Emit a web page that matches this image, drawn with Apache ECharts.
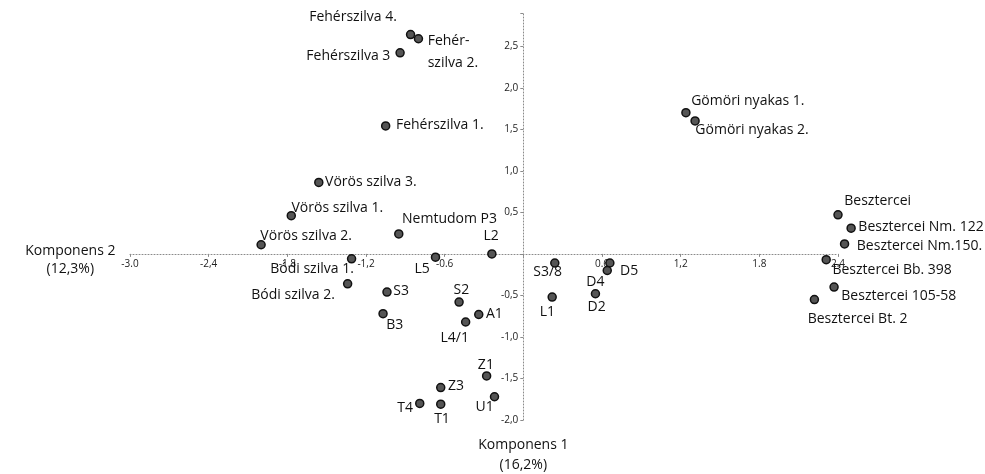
<!DOCTYPE html>
<html><head><meta charset="utf-8">
<script src="https://cdn.jsdelivr.net/npm/echarts@6/dist/echarts.min.js"></script>
<style>html,body{margin:0;padding:0;background:#fff}#c{width:985px;height:474px}</style>
</head><body><div id="c"></div>
<script>
// ---- data ----
const names = [
  'Fehérszilva 4.', 'Fehér-\nszilva 2.', 'Fehérszilva 3', 'Fehérszilva 1.',
  'Vörös szilva 3.', 'Vörös szilva 1.', 'Vörös szilva 2.', 'Nemtudom P3',
  'L2', 'Bódi szilva 1.', 'L5', 'Bódi szilva 2.', 'S3', 'S2', 'A1', 'L4/1', 'B3',
  'Z1', 'U1', 'Z3', 'T4', 'T1',
  'S3/8', 'D5', 'D4', 'L1', 'D2',
  'Gömöri nyakas 1.', 'Gömöri nyakas 2.',
  'Besztercei', 'Besztercei Nm. 122', 'Besztercei Nm.150.', 'Besztercei Bb. 398',
  'Besztercei 105-58', 'Besztercei Bt. 2'
];
const komponens1 = [
  -0.86, -0.80, -0.94, -1.05,
  -1.56, -1.77, -2.00, -0.95,
  -0.24, -1.31, -0.67, -1.34, -1.04, -0.49, -0.34, -0.44, -1.07,
  -0.28, -0.22, -0.63, -0.79, -0.63,
  0.24, 0.66, 0.64, 0.22, 0.55,
  1.24, 1.31,
  2.40, 2.50, 2.45, 2.31, 2.37, 2.22
];
const komponens2 = [
  2.64, 2.59, 2.42, 1.54,
  0.86, 0.46, 0.11, 0.24,
  0.00, -0.06, -0.04, -0.36, -0.46, -0.58, -0.73, -0.82, -0.72,
  -1.47, -1.72, -1.61, -1.80, -1.81,
  -0.11, -0.11, -0.20, -0.52, -0.48,
  1.70, 1.60,
  0.47, 0.31, 0.12, -0.07, -0.40, -0.55
];
const xTickValues = [-3.0, -2.4, -1.8, -1.2, -0.6, 0.6, 1.2, 1.8, 2.4];
const xTickLabels = ['-3.0', '-2,4', '-1.8', '-1,2', '-0.6', '0.6', '1,2', '1.8', '2.4'];
const yTickValues = [2.5, 2.0, 1.5, 1.0, 0.5, -0.5, -1.0, -1.5, -2.0];
const yTickLabels = ['2,5', '2,0', '1,5', '1,0', '0,5', '-0,5', '-1,0', '-1,5', '-2,0'];
const xAxisTitleLines = ['Komponens 2', '(12,3%)'];
const yAxisTitle = 'Komponens 1\n(16,2%)';

// ---- label layout (anchor, dx, dy from point centre) ----
const labelPlacement = [
  ['r', -13, -17], ['l', 10, 14], ['r', -9, 4], ['l', 11, 0],
  ['l', 7, 0], ['l', 1, -7], ['l', 0, -8], ['l', 4, -14],
  ['c', 0, -17], ['r', 3, 11], ['r', -5, 13], ['r', -12, 12], ['l', 7, 0], ['c', 3, -11], ['l', 8, 0], ['r', 4, 17], ['l', 4, 12],
  ['c', 0, -10], ['r', 0, 11], ['l', 8, -1], ['r', -6, 5], ['c', 2, 16],
  ['r', 8, 10], ['l', 11, 9], ['r', -2, 12], ['c', -4, 16], ['c', 2, 14],
  ['l', 6, -11], ['l', 1, 10],
  ['l', 7, -13], ['l', 8, 0], ['l', 13, 3], ['l', 7, 11], ['l', 8, 10], ['l', -6, 20]
];

const FONT = 'Open Sans';
const SYM = 8;
const alignMap = { l: 'left', r: 'right', c: 'center' };
const X_MIN = -3.0, X_MAX = 2.4, Y_MIN = -2.0, Y_MAX = 2.9;

function lookup(vals, labels, v) {
  for (let i = 0; i < vals.length; i++) if (Math.abs(vals[i] - v) < 1e-6) return labels[i];
  return '';
}

const seriesData = names.map((n, i) => {
  const p = labelPlacement[i];
  return {
    name: n,
    value: [komponens1[i], komponens2[i]],
    label: {
      position: [SYM / 2 + p[1], SYM / 2 + p[2]],
      align: alignMap[p[0]],
      verticalAlign: 'middle'
    }
  };
});

const axisLineStyle = { color: '#8a8a8a', type: [1, 2], width: 1 };

const chart = echarts.init(document.getElementById('c'));
chart.setOption({
  animation: false,
  backgroundColor: '#fff',
  textStyle: { fontFamily: FONT },
  grid: { left: 130, right: 147, top: 13, bottom: 54, containLabel: false, outerBoundsMode: 'none' },
  xAxis: {
    type: 'value', min: X_MIN, max: X_MAX, interval: 0.6, position: 'bottom',
    splitLine: { show: false },
    axisLine: { onZero: false, lineStyle: axisLineStyle },
    axisTick: { show: true, length: 3, lineStyle: { color: '#8a8a8a' } },
    axisLabel: {
      fontFamily: FONT, fontSize: 10, color: '#222', margin: 5,
      formatter: v => lookup(xTickValues, xTickLabels, v)
    },
    name: '{sp| }\n{t|' + xAxisTitleLines[0] + '}\n{t|' + xAxisTitleLines[1] + '}',
    nameLocation: 'start', nameGap: 59,
    nameTextStyle: {
      fontFamily: FONT, fontSize: 14, color: '#111', align: 'center', verticalAlign: 'middle',
      rich: {
        sp: { fontSize: 8, lineHeight: 12 },
        t: { fontFamily: FONT, fontSize: 14, color: '#111', lineHeight: 18, align: 'center' }
      }
    }
  },
  yAxis: {
    type: 'value', min: Y_MIN, max: Y_MAX, interval: 0.5, position: 'left',
    splitLine: { show: false },
    axisLine: { onZero: false, lineStyle: axisLineStyle },
    axisTick: { show: true, length: 3, lineStyle: { color: '#8a8a8a' } },
    axisLabel: {
      fontFamily: FONT, fontSize: 10, color: '#222', margin: 5,
      formatter: v => lookup(yTickValues, yTickLabels, v)
    },
    name: yAxisTitle, nameLocation: 'start', nameGap: 15,
    nameTextStyle: { fontFamily: FONT, fontSize: 14, color: '#111', lineHeight: 20, align: 'center', verticalAlign: 'top' }
  },
  series: [{
    type: 'scatter',
    clip: false,
    symbol: 'circle',
    symbolSize: SYM,
    itemStyle: { color: '#555', borderColor: '#111', borderWidth: 1.5, opacity: 1 },
    label: {
      show: true, fontFamily: FONT, fontSize: 14, color: '#111', lineHeight: 22,
      formatter: p => p.name
    },
    labelLayout: { hideOverlap: false },
    emphasis: { disabled: true },
    data: seriesData
  }]
});

// move both axes (line, ticks, labels, names) onto the zero crossing
const zero = chart.convertToPixel({ gridIndex: 0 }, [0, 0]);
const corner = chart.convertToPixel({ gridIndex: 0 }, [X_MIN, Y_MIN]);
chart.setOption({
  xAxis: { offset: -(corner[1] - zero[1]) },
  yAxis: { offset: -(zero[0] - corner[0]) }
});
</script>
</body></html>
